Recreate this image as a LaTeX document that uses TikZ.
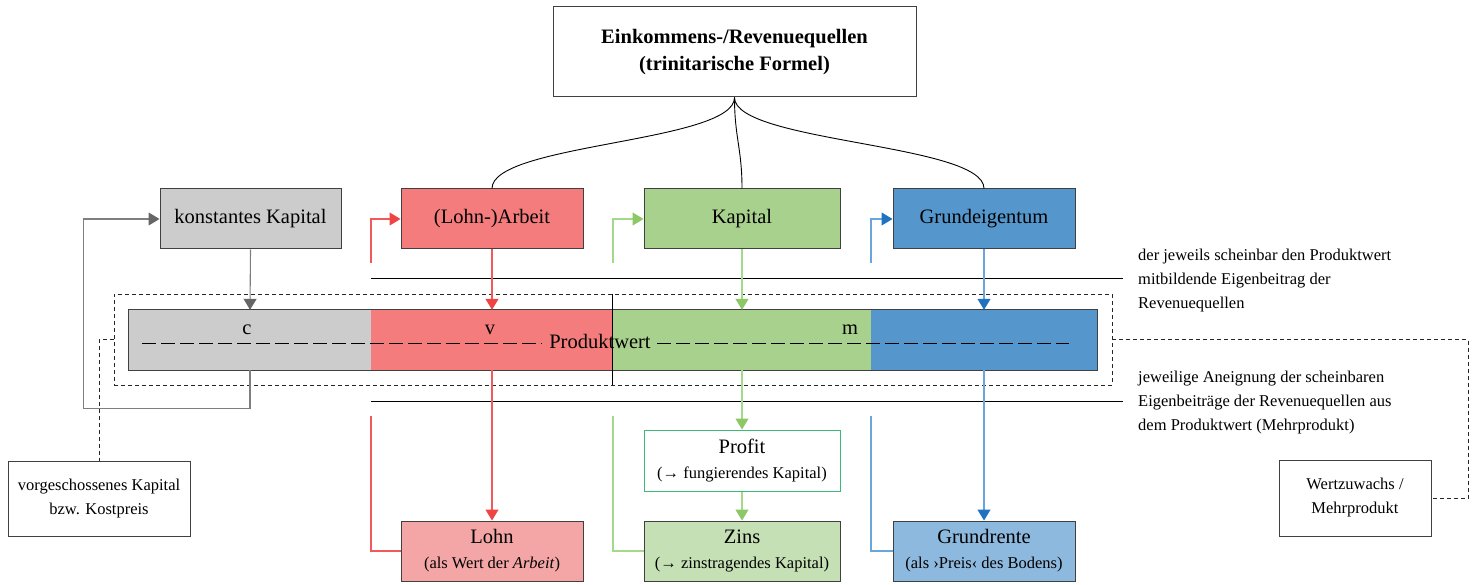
\documentclass[tikz,border=0pt]{standalone}
\usepackage{fontspec}
\setmainfont{Liberation Serif}
\usetikzlibrary{arrows.meta}

\definecolor{boxline}{HTML}{404040}
\definecolor{cfill}{HTML}{CCCCCC}
\definecolor{cline}{HTML}{7F7F7F}
\definecolor{chead}{HTML}{666666}
\definecolor{vfill}{HTML}{F47C7C}
\definecolor{vline}{HTML}{F05A5A}
\definecolor{vhead}{HTML}{EF4444}
\definecolor{lohnfill}{HTML}{F4A6A6}
\definecolor{mfill}{HTML}{A9D18E}
\definecolor{mline}{HTML}{A3D98A}
\definecolor{mhead}{HTML}{8CC865}
\definecolor{zinsfill}{HTML}{C5E0B4}
\definecolor{profline}{HTML}{3CB878}
\definecolor{rfill}{HTML}{5597CC}
\definecolor{rline}{HTML}{6AA6DB}
\definecolor{rhead}{HTML}{1F72C0}
\definecolor{gfill}{HTML}{8EB9DE}

\newcommand\bigf{\fontsize{20.5}{27}\selectfont}
\newcommand\smallf{\fontsize{16.5}{24}\selectfont}

\begin{document}
\begin{tikzpicture}[x=1pt,y=-1pt,
  box/.style={draw=boxline, line width=1pt, inner sep=0pt, align=center, font=\bigf},
  seg/.style={inner sep=0pt, minimum height=60, draw=none},
  flow/.style={line width=1.1pt, -{Triangle[length=11pt,width=13pt,color=#1]}},
  retline/.style={line width=1.1pt, draw=#1},
  sep/.style={line width=1pt, black},
  fine/.style={dash pattern=on 4pt off 3pt, line width=0.9pt, black!85},
  note/.style={font=\smallf, align=left, anchor=west, inner sep=0pt},
  lab/.style={font=\bigf, inner sep=0pt}]
\useasboundingbox (0,0) rectangle (1477,585);

% sources of revenue
\node[box, minimum width=363, minimum height=90, font=\bfseries\bigf] (top) at (734.5,52)
  {Einkommens-/Revenuequellen\\(trinitarische Formel)};
\node[box, fill=cfill, minimum width=181, minimum height=60] (ka) at (250.5,219) {konstantes Kapital};
\node[box, fill=vfill, minimum width=182, minimum height=60] (arb) at (492,219) {(Lohn-)Arbeit};
\node[box, fill=mfill, minimum width=196, minimum height=60] (kap) at (742,219) {Kapital};
\node[box, fill=rfill, minimum width=182, minimum height=60] (ge) at (984,219) {Grundeigentum};

\draw[line width=0.9pt] (top.south) .. controls +(0,45) and +(0,-45) .. (arb.north);
\draw[line width=0.9pt] (top.south) .. controls +(0,40) and +(0,-40) .. (kap.north);
\draw[line width=0.9pt] (top.south) .. controls +(0,45) and +(0,-45) .. (ge.north);

% the value product bar
\node[fine, draw, minimum width=998, minimum height=91, inner sep=0pt] (pw) at (613,339.5) {};
\node[seg, fill=cfill, minimum width=242] (sc) at (250,340) {};
\node[seg, fill=vfill, minimum width=242] (sv) at (492,340) {};
\node[seg, fill=mfill, minimum width=258] (sm) at (742,340) {};
\node[seg, fill=rfill, minimum width=226] (sr) at (984,340) {};
\draw[boxline, line width=1pt] (sc.north west) rectangle (sr.south east);
\draw[line width=0.8pt, black] (pw.north -| sm.west) -- (pw.south -| sm.west);

\node[lab] (lc) at (247,330) {c};
\node[lab] (lv) at (490,330) {v};
\node[lab] (lm) at (850,330) {m};
\node[lab] (pwt) at (600,341) {Produktwert};
\draw[line width=1pt, dash pattern=on 14pt off 5pt] (142,343) -- (542,343);
\draw[line width=1pt, dash pattern=on 14pt off 5pt] (657,343) -- (1069,343);

% separators and their notes
\draw[sep] (371,279) -- (1123,279);
\draw[sep] (371,401) -- (1123,401);
\node[note] (n1) at (1138,281) {der jeweils scheinbar den Produktwert\\mitbildende Eigenbeitrag der\\Revenuequellen};
\node[note] (n2) at (1138,403) {jeweilige Aneignung der scheinbaren\\Eigenbeiträge der Revenuequellen aus\\dem Produktwert (Mehrprodukt)};

% revenue forms
\node[box, draw=profline, fill=white, minimum width=196, minimum height=61] (prof) at (742,460.5)
  {Profit\\[-2pt]{\smallf(→ fungierendes Kapital)}};
\node[box, fill=lohnfill, minimum width=182, minimum height=60] (lohn) at (492,551)
  {Lohn\\[-2pt]{\smallf(als Wert der \textit{Arbeit})}};
\node[box, fill=zinsfill, minimum width=196, minimum height=60] (zins) at (742,551)
  {Zins\\[-2pt]{\smallf(→ zinstragendes Kapital)}};
\node[box, fill=gfill, minimum width=182, minimum height=60] (gr) at (984,551)
  {Grundrente\\[-2pt]{\smallf(als ›Preis‹ des Bodens)}};

\node[box, font=\smallf, minimum width=182, minimum height=75] (vk) at (99,498.5)
  {vorgeschossenes Kapital\\bzw. Kostpreis};
\node[box, font=\smallf, minimum width=152, minimum height=76] (wz) at (1355,498)
  {Wertzuwachs /\\Mehrprodukt};

% flows into the bar and out of it
\draw[flow=chead, cline] (ka.south) -- (sc.north);
\draw[flow=vhead, vline] (arb.south) -- (sv.north);
\draw[flow=mhead, mline] (kap.south) -- (sm.north);
\draw[flow=rhead, rline] (ge.south) -- (sr.north);
\draw[flow=vhead, vline] (sv.south) -- (lohn.north);
\draw[flow=mhead, mline] (sm.south) -- (prof.north);
\draw[flow=mhead, mline] (prof.south) -- (zins.north);
\draw[flow=rhead, rline] (sr.south) -- (gr.north);

% return of constant capital
\draw[flow=chead, cline] (sc.south) -- ++(0,38) -| ([xshift=-76pt]ka.west) -- (ka.west);

% feedback of each source
\coordinate (ra) at (371,263);
\coordinate (ma) at (613,263);
\coordinate (ba) at (871,263);
\draw[flow=vhead, vline] (ra) |- (arb.west);
\draw[flow=mhead, mline] (ma) |- (kap.west);
\draw[flow=rhead, rline] (ba) |- (ge.west);
\coordinate (rb) at (371,416);
\coordinate (mb) at (613,416);
\coordinate (bb) at (871,416);
\draw[retline=vline] (rb) |- (lohn.west);
\draw[retline=mline] (mb) |- (zins.west);
\draw[retline=rline] (bb) |- (gr.west);

% dashed links to the side boxes
\draw[fine] (pw.west) -| (vk.north);
\draw[fine] (pw.east) -- ++(356,0) |- (wz.east);
\end{tikzpicture}
\end{document}
